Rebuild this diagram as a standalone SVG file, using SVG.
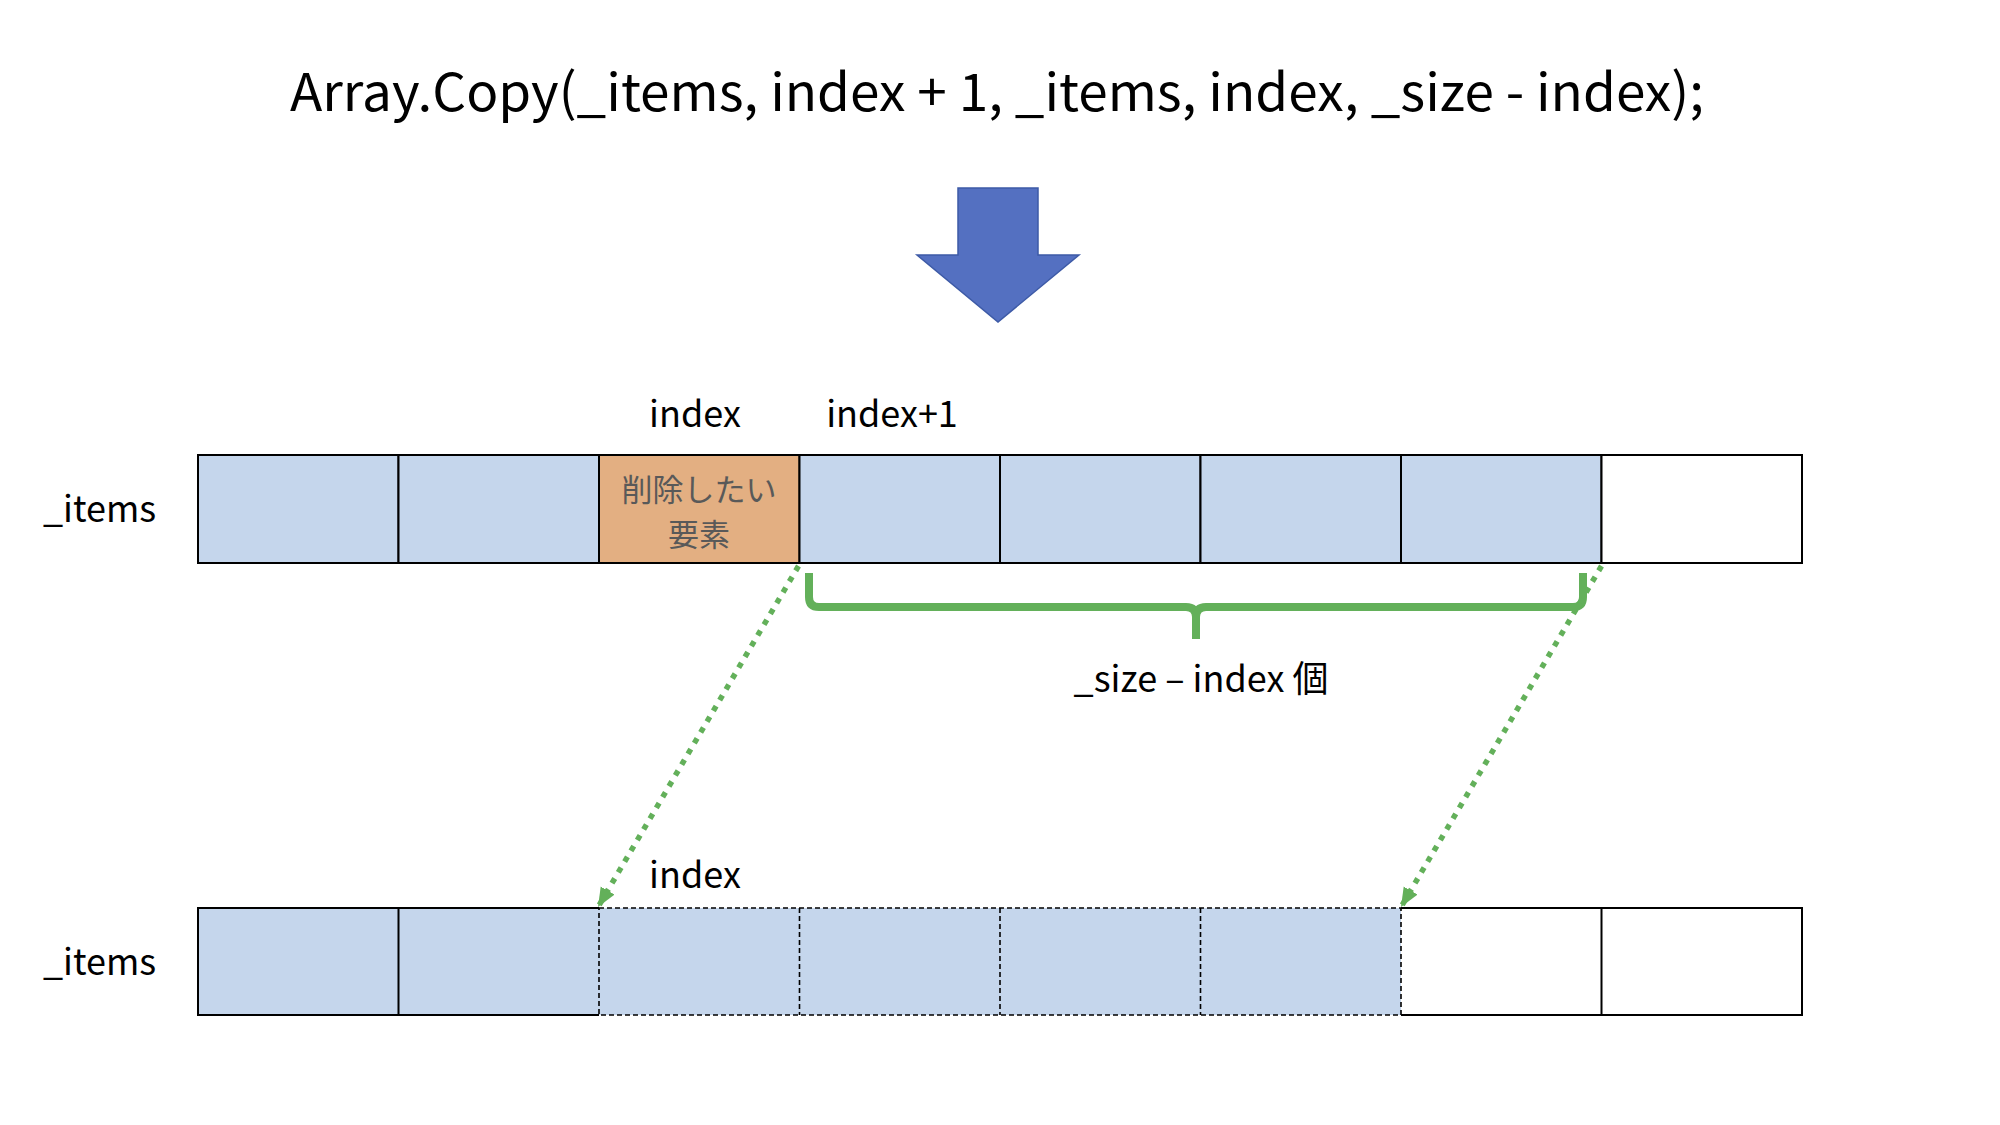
<svg xmlns="http://www.w3.org/2000/svg" width="2000" height="1125" viewBox="0 0 2000 1125">
<defs>
<style>
.t{font-family:"Noto Sans CJK JP","Noto Sans",sans-serif;fill:#000;}
.lbl{font-size:36px;}
.cell{fill:#C5D6EC;stroke:#000;stroke-width:2;}
.empty{fill:#fff;stroke:#000;stroke-width:2;}
.solid{fill:none;stroke:#000;stroke-width:2;}
.dash{fill:none;stroke:#000;stroke-width:1.6;stroke-dasharray:5 3;}
.dot{fill:none;stroke:#63B05A;stroke-width:5.5;stroke-dasharray:5.5 7;}
.brace{fill:none;stroke:#63B05A;stroke-width:8;stroke-linejoin:round;}
</style>
<marker id="ah" markerUnits="userSpaceOnUse" markerWidth="20" markerHeight="18" refX="19" refY="8" orient="auto">
<path d="M0,0 L19,8 L0,16 z" fill="#63B05A"/>
</marker>
</defs>
<rect width="2000" height="1125" fill="#fff"/>

<g id="title">
<text class="t" x="997" y="111" font-size="52" text-anchor="middle" textLength="1414" lengthAdjust="spacingAndGlyphs">Array.Copy(_items, index + 1, _items, index, _size - index);</text>
</g>

<g id="down-arrow">
<polygon points="958,188 1038,188 1038,255 1079,255 998,322 917,255 958,255" fill="#5470C1" stroke="#3D5AA6" stroke-width="1.5"/>
</g>

<g id="top-array">
<text class="t lbl" x="43" y="522">_items</text>
<text class="t lbl" x="695" y="427" text-anchor="middle">index</text>
<text class="t lbl" x="892" y="427" text-anchor="middle">index+1</text>
<g id="top-cell-0"><rect class="cell" x="198" y="455" width="200.5" height="108"/></g>
<g id="top-cell-1"><rect class="cell" x="398.5" y="455" width="200.5" height="108"/></g>
<g id="top-cell-2"><rect x="599" y="455" width="200.5" height="108" fill="#E3AF82" stroke="#000" stroke-width="2"/>
<text class="t" font-size="31" text-anchor="middle" style="fill:#595959"><tspan x="699" y="501">削除したい</tspan><tspan x="699" y="546">要素</tspan></text></g>
<g id="top-cell-3"><rect class="cell" x="799.5" y="455" width="200.5" height="108"/></g>
<g id="top-cell-4"><rect class="cell" x="1000" y="455" width="200.5" height="108"/></g>
<g id="top-cell-5"><rect class="cell" x="1200.5" y="455" width="200.5" height="108"/></g>
<g id="top-cell-6"><rect class="cell" x="1401" y="455" width="200.5" height="108"/></g>
<g id="top-cell-7"><rect class="empty" x="1601.5" y="455" width="200.5" height="108"/></g>
</g>

<g id="brace-group">
<path class="brace" d="M809,573 V597 Q809,607 819,607 H1186 Q1196,607 1196,617 V639 M1196,617 Q1196,607 1206,607 H1573 Q1583,607 1583,597 V573"/>
<text class="t lbl" x="1201" y="692" text-anchor="middle">_size – index 個</text>
</g>

<g id="bottom-array">
<text class="t lbl" x="43" y="975">_items</text>
<text class="t lbl" x="695" y="888" text-anchor="middle">index</text>
<rect x="198" y="908" width="1203" height="107" fill="#C5D6EC"/>
<rect x="1401" y="908" width="401" height="107" fill="#fff"/>
<g id="bottom-solid">
<path class="solid" d="M599,908 H198 V1015 H599 M398.5,908 V1015 M1401,908 H1802 V1015 H1401 M1601.5,908 V1015"/>
</g>
<g id="bottom-dashed">
<path class="dash" d="M599,908 H1401 V1015 H599 Z M799.5,908 V1015 M1000,908 V1015 M1200.5,908 V1015"/>
</g>
</g>

<g id="connectors">
<line class="dot" x1="798.5" y1="566" x2="598" y2="907" marker-end="url(#ah)"/>
<line class="dot" x1="1601.5" y1="566" x2="1401" y2="907" marker-end="url(#ah)"/>
</g>
</svg>
